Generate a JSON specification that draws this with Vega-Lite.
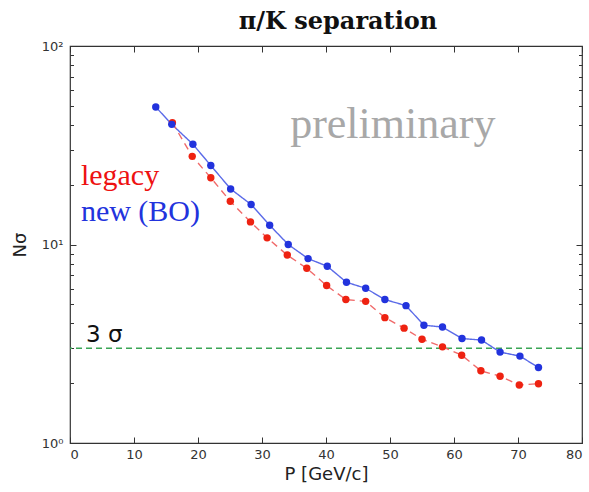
{
  "$schema": "https://vega.github.io/schema/vega-lite/v6.json",
  "autosize": "none",
  "width": 512,
  "height": 397,
  "padding": {"left": 70, "top": 46, "right": 7, "bottom": 49},
  "background": "white",
  "config": {
    "view": {"stroke": "#333", "strokeWidth": 1.2},
    "axis": {"domain": false, "grid": false, "zindex": 1, "labelFont": "DejaVu Sans", "titleFont": "DejaVu Sans", "labelColor": "#333", "titleColor": "#222", "tickColor": "#333", "tickWidth": 1, "titleFontWeight": "normal", "offset": -6, "tickSize": 6}
  },
  "title": {
    "text": "π/K separation",
    "font": "DejaVu Serif",
    "fontSize": 24,
    "fontWeight": "bold",
    "color": "#111",
    "offset": 6,
    "dx": 12
  },
  "datasets": {
    "curves": [
      {"p": 13.4, "nsigma": 49.3, "series": "new (BO)"},
      {"p": 15.9, "nsigma": 40.3, "series": "new (BO)"},
      {"p": 19.2, "nsigma": 32.0, "series": "new (BO)"},
      {"p": 22.0, "nsigma": 25.0, "series": "new (BO)"},
      {"p": 25.1, "nsigma": 19.05, "series": "new (BO)"},
      {"p": 28.3, "nsigma": 15.9, "series": "new (BO)"},
      {"p": 31.2, "nsigma": 12.5, "series": "new (BO)"},
      {"p": 34.1, "nsigma": 10.0, "series": "new (BO)"},
      {"p": 37.2, "nsigma": 8.49, "series": "new (BO)"},
      {"p": 40.2, "nsigma": 7.77, "series": "new (BO)"},
      {"p": 43.2, "nsigma": 6.45, "series": "new (BO)"},
      {"p": 46.2, "nsigma": 6.02, "series": "new (BO)"},
      {"p": 49.2, "nsigma": 5.28, "series": "new (BO)"},
      {"p": 52.5, "nsigma": 4.92, "series": "new (BO)"},
      {"p": 55.3, "nsigma": 3.92, "series": "new (BO)"},
      {"p": 58.2, "nsigma": 3.84, "series": "new (BO)"},
      {"p": 61.25, "nsigma": 3.36, "series": "new (BO)"},
      {"p": 64.3, "nsigma": 3.30, "series": "new (BO)"},
      {"p": 67.2, "nsigma": 2.87, "series": "new (BO)"},
      {"p": 70.3, "nsigma": 2.74, "series": "new (BO)"},
      {"p": 73.2, "nsigma": 2.40, "series": "new (BO)"},
      {"p": 16.0, "nsigma": 41.1, "series": "legacy"},
      {"p": 19.1, "nsigma": 27.8, "series": "legacy"},
      {"p": 22.0, "nsigma": 21.7, "series": "legacy"},
      {"p": 25.05, "nsigma": 16.5, "series": "legacy"},
      {"p": 28.2, "nsigma": 13.0, "series": "legacy"},
      {"p": 30.8, "nsigma": 10.8, "series": "legacy"},
      {"p": 33.95, "nsigma": 8.85, "series": "legacy"},
      {"p": 37.0, "nsigma": 7.59, "series": "legacy"},
      {"p": 40.1, "nsigma": 6.21, "series": "legacy"},
      {"p": 43.1, "nsigma": 5.28, "series": "legacy"},
      {"p": 46.2, "nsigma": 5.17, "series": "legacy"},
      {"p": 49.2, "nsigma": 4.28, "series": "legacy"},
      {"p": 52.2, "nsigma": 3.79, "series": "legacy"},
      {"p": 55.0, "nsigma": 3.33, "series": "legacy"},
      {"p": 58.2, "nsigma": 3.05, "series": "legacy"},
      {"p": 61.2, "nsigma": 2.77, "series": "legacy"},
      {"p": 64.2, "nsigma": 2.31, "series": "legacy"},
      {"p": 67.2, "nsigma": 2.17, "series": "legacy"},
      {"p": 70.2, "nsigma": 1.96, "series": "legacy"},
      {"p": 73.2, "nsigma": 1.99, "series": "legacy"}
    ],
    "prelim": [{"p": 34.4, "nsigma": 34.3, "label": "preliminary"}],
    "legacylabel": [{"p": 1.7, "nsigma": 19.9, "label": "legacy"}],
    "newlabel": [{"p": 1.7, "nsigma": 13.1, "label": "new (BO)"}],
    "sigmalabel": [{"p": 2.5, "nsigma": 3.23, "label": "3 σ"}],
    "threshold": [{"nsigma": 3}]
  },
  "layer": [
    {
      "data": {"name": "threshold"},
      "mark": {"type": "rule", "color": "#3aa655", "strokeWidth": 1.5, "strokeDash": [6, 4]},
      "encoding": {
        "y": {"field": "nsigma", "type": "quantitative", "axis": null}
      }
    },
    {
      "data": {"name": "curves"},
      "mark": {"type": "line", "strokeWidth": 1.4},
      "encoding": {
        "x": {
          "field": "p", "type": "quantitative",
          "scale": {"domain": [0, 80], "nice": false, "zero": false},
          "axis": {"orient": "bottom", "values": [0, 10, 20, 30, 40, 50, 60, 70, 80], "ticks": false, "title": "P [GeV/c]", "titleFontSize": 18, "labelFontSize": 13, "labelPadding": 11, "titlePadding": 4}
        },
        "y": {
          "field": "nsigma", "type": "quantitative",
          "scale": {"type": "log", "domain": [1, 100], "nice": false},
          "axis": {
            "orient": "left",
            "ticks": false,
            "values": [1, 10, 100],
            "labelExpr": "datum.value == 1 ? '10⁰' : datum.value == 10 ? '10¹' : '10²'",
            "labelFontSize": 13,
            "labelPadding": 13,
            "title": "Nσ",
            "titleFontSize": 18,
            "titlePadding": 12
          }
        },
        "stroke": {
          "field": "series", "type": "nominal",
          "scale": {"domain": ["legacy", "new (BO)"], "range": ["#f06a6a", "#5a6ae8"]},
          "legend": null
        },
        "strokeDash": {
          "field": "series", "type": "nominal",
          "scale": {"domain": ["legacy", "new (BO)"], "range": [[7, 5], [1, 0]]},
          "legend": null
        },
        "order": {"field": "p", "type": "quantitative"}
      }
    },
    {
      "data": {"name": "curves"},
      "mark": {"type": "point", "filled": true, "size": 55, "opacity": 1},
      "encoding": {
        "x": {
          "field": "p", "type": "quantitative",
          "axis": {"orient": "top", "values": [0, 10, 20, 30, 40, 50, 60, 70, 80], "labels": false, "title": null}
        },
        "y": {
          "field": "nsigma", "type": "quantitative",
          "axis": {
            "orient": "right",
            "values": [1, 2, 3, 4, 5, 6, 7, 8, 9, 10, 20, 30, 40, 50, 60, 70, 80, 90, 100],
            "labels": false,
            "title": null,
            "tickDash": {"condition": {"test": "datum.value == 1 || datum.value == 10 || datum.value == 100", "value": [6, 0]}, "value": [0, 2.5, 3.5, 10]}
          }
        },
        "fill": {
          "field": "series", "type": "nominal",
          "scale": {"domain": ["legacy", "new (BO)"], "range": ["#ee2211", "#2233dd"]},
          "legend": null
        },
        "order": {"field": "series", "type": "nominal", "sort": "ascending"}
      }
    },
    {
      "data": {"name": "prelim"},
      "mark": {"type": "text", "align": "left", "baseline": "alphabetic", "font": "Liberation Serif", "fontSize": 44, "color": "#a8a8a8"},
      "encoding": {
        "x": {
          "field": "p", "type": "quantitative",
          "axis": {"orient": "bottom", "values": [0, 10, 20, 30, 40, 50, 60, 70, 80], "labels": false, "title": null}
        },
        "y": {
          "field": "nsigma", "type": "quantitative",
          "axis": {
            "orient": "left",
            "values": [1, 2, 3, 4, 5, 6, 7, 8, 9, 10, 20, 30, 40, 50, 60, 70, 80, 90, 100],
            "labels": false,
            "title": null,
            "tickDash": {"condition": {"test": "datum.value == 1 || datum.value == 10 || datum.value == 100", "value": [6, 0]}, "value": [0, 2.5, 3.5, 10]}
          }
        },
        "text": {"field": "label"}
      }
    },
    {
      "data": {"name": "legacylabel"},
      "mark": {"type": "text", "align": "left", "baseline": "alphabetic", "font": "Liberation Serif", "fontSize": 30, "color": "#ee1111"},
      "encoding": {
        "x": {"field": "p", "type": "quantitative", "axis": null},
        "y": {"field": "nsigma", "type": "quantitative", "axis": null},
        "text": {"field": "label"}
      }
    },
    {
      "data": {"name": "newlabel"},
      "mark": {"type": "text", "align": "left", "baseline": "alphabetic", "font": "Liberation Serif", "fontSize": 30, "color": "#2233dd"},
      "encoding": {
        "x": {"field": "p", "type": "quantitative", "axis": null},
        "y": {"field": "nsigma", "type": "quantitative", "axis": null},
        "text": {"field": "label"}
      }
    },
    {
      "data": {"name": "sigmalabel"},
      "mark": {"type": "text", "align": "left", "baseline": "alphabetic", "font": "DejaVu Sans", "fontSize": 23, "color": "#111"},
      "encoding": {
        "x": {"field": "p", "type": "quantitative", "axis": null},
        "y": {"field": "nsigma", "type": "quantitative", "axis": null},
        "text": {"field": "label"}
      }
    }
  ],
  "resolve": {"axis": {"x": "independent", "y": "independent"}}
}
